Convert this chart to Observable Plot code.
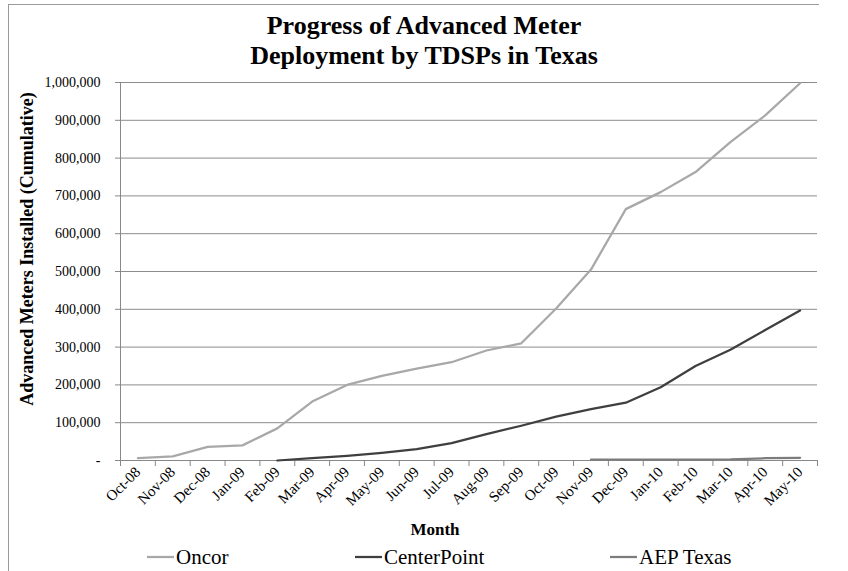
<!DOCTYPE html>
<html>
<head>
<meta charset="utf-8">
<script src="https://cdn.jsdelivr.net/npm/d3@7"></script>
<script src="https://cdn.jsdelivr.net/npm/@observablehq/plot@0.6"></script>
<style>
  html, body { margin: 0; padding: 0; background: #fff; }
  #wrap { position: relative; width: 848px; height: 571px; overflow: hidden; font-family: "Liberation Serif", serif; color: #000; }
  #border { position: absolute; left: 8px; top: 4px; width: 810px; height: 600px; border-top: 1px solid #9a9a9a; border-left: 1px solid #9a9a9a; }
  #title { position: absolute; left: 0; top: 0; width: 848px; text-align: center; font-weight: bold; font-size: 26px; line-height: 30px; padding-top: 11px; }
  #chart { position: absolute; left: 0; top: 70px; }
  #ylabel { position: absolute; left: 27px; top: 249px; transform: translate(-50%, -50%) rotate(-90deg); white-space: nowrap; font-weight: bold; font-size: 18px; }
  #legend { position: absolute; left: 0; top: 540px; width: 848px; height: 34px; font-size: 21px; line-height: 34px; }
  .item { position: absolute; top: 0; display: flex; align-items: center; height: 34px; }
  .item svg { display: block; margin-right: 2px; }
</style>
</head>
<body>
<div id="wrap">
  <div id="border"></div>
  <div id="title">Progress of Advanced Meter<br>Deployment by TDSPs in Texas</div>
  <div id="chart"></div>
  <div id="ylabel">Advanced Meters Installed (Cumulative)</div>
  <div id="legend"></div>
</div>
<script>
const months = ["Oct-08","Nov-08","Dec-08","Jan-09","Feb-09","Mar-09","Apr-09","May-09","Jun-09","Jul-09",
                "Aug-09","Sep-09","Oct-09","Nov-09","Dec-09","Jan-10","Feb-10","Mar-10","Apr-10","May-10"];
const oncor = [6000, 11000, 36000, 40000, 85000, 156000, 200000, 224000, 243000, 260000,
               291000, 310000, 402000, 505000, 665000, 710000, 763000, 842000, 913000, 998000];
const centerPoint = [null, null, null, null, 0, 6000, 12000, 20000, 30000, 46000,
                     70000, 92000, 116000, 136000, 153000, 194000, 250000, 293000, 345000, 397000];
const aepTexas = [null, null, null, null, null, null, null, null, null, null,
                  null, null, null, 2000, 2500, 2500, 2500, 3000, 6000, 7000];
const yTicks = [0, 100000, 200000, 300000, 400000, 500000, 600000, 700000, 800000, 900000, 1000000];
const seriesNames = ["Oncor", "CenterPoint", "AEP Texas"];
const seriesColors = ["#a8a8a8", "#3f3f3f", "#7c7c7c"];
const legendLeft = [147, 355, 610];

const rows = [];
[oncor, centerPoint, aepTexas].forEach((vals, s) => {
  vals.forEach((v, i) => {
    if (v != null) rows.push({series: seriesNames[s], i, month: months[i], value: v});
  });
});

const fmt = d3.format(",");
const chart = Plot.plot({
  width: 848,
  height: 470,
  marginTop: 12,
  marginBottom: 80,
  marginLeft: 120,
  marginRight: 31,
  style: {fontFamily: "Liberation Serif", fontSize: "15px", color: "#000", background: "transparent", overflow: "visible"},
  x: {type: "linear", domain: [-0.5, months.length - 0.5]},
  y: {domain: [0, 1000000]},
  color: {domain: seriesNames, range: seriesColors},
  marks: [
    Plot.gridY(yTicks, {stroke: "#8c8c8c", strokeOpacity: 1, strokeWidth: 1}),
    Plot.axisY({ticks: yTicks, tickSize: 5, tickPadding: 15, stroke: "#888", fontSize: 14,
                tickFormat: d => d === 0 ? "-" : fmt(d), label: null}),
    Plot.ruleX([-0.5], {stroke: "#888"}),
    Plot.ruleY([0], {stroke: "#888"}),
    Plot.axisX({ticks: d3.range(-0.5, months.length), tickSize: 6, stroke: "#888", tickFormat: () => "", label: null}),
    Plot.axisX({ticks: d3.range(months.length), tickSize: 0, tickPadding: 9, tickRotate: -45, fontSize: 15,
                tickFormat: i => months[i], label: null}),
    Plot.line(rows, {x: "i", y: "value", z: "series", stroke: "series", strokeWidth: 2.25}),
    Plot.text(["Month"], {text: d => d, frameAnchor: "bottom", dx: -34, dy: 74, fontWeight: "bold", fontSize: 17})
  ]
});
document.getElementById("chart").appendChild(chart);

const legend = document.getElementById("legend");
seriesNames.forEach((name, k) => {
  const item = document.createElement("div");
  item.className = "item";
  item.style.left = legendLeft[k] + "px";
  item.innerHTML = `<svg width="27" height="4"><line x1="0" x2="27" y1="2" y2="2" stroke="${seriesColors[k]}" stroke-width="2.25"/></svg><span>${name}</span>`;
  legend.appendChild(item);
});
</script>
</body>
</html>
